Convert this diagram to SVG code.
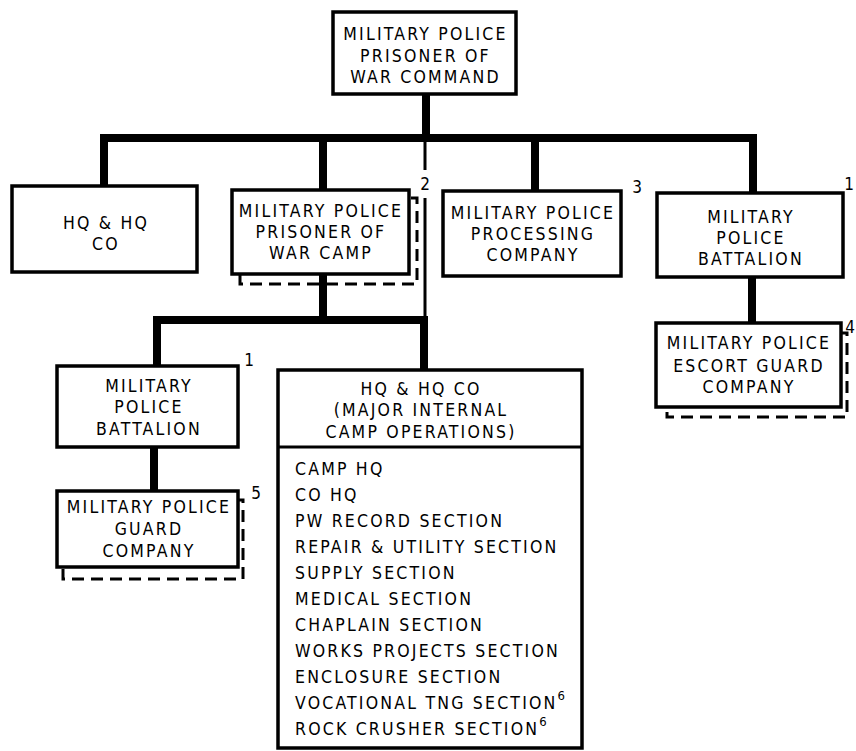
<svg xmlns="http://www.w3.org/2000/svg" width="856" height="751" viewBox="0 0 856 751">
<style>
text{font-family:"DejaVu Sans Condensed","Liberation Sans Narrow","DejaVu Sans",sans-serif;font-size:17.5px;letter-spacing:2.2px;fill:#000}
.c{text-anchor:middle}
.fn{font-size:17px;letter-spacing:0}
.box{fill:#fff;stroke:#000;stroke-width:3.5}
.sh{fill:none;stroke:#000;stroke-width:3;stroke-dasharray:12 7}
.thick{fill:none;stroke:#000;stroke-width:8;stroke-linejoin:miter}
.thin{fill:none;stroke:#000;stroke-width:3}
</style>
<rect width="856" height="751" fill="#fff"/>
<g id="connectors">
<path class="thick" d="M426,94 V138"/>
<path class="thick" d="M104,188 V138 H753 V194"/>
<path class="thick" d="M323,138 V191"/>
<path class="thick" d="M535,138 V192"/>
<path class="thin" d="M425,138 V170 M425,198 V370"/>
<path class="thick" d="M323,274 V320"/>
<path class="thick" d="M157,368 V320 H424 V371"/>
<path class="thick" d="M752,277 V324"/>
<path class="thick" d="M154,447 V492"/>
</g>
<g id="n-command">
<rect class="box" x="333" y="12" width="183" height="82"/>
<text class="c" x="425.5" y="40">MILITARY POLICE</text>
<text class="c" x="425.5" y="62">PRISONER OF</text>
<text class="c" x="425.5" y="83">WAR COMMAND</text>
</g>
<g id="n-hqco">
<rect class="box" x="12" y="186" width="185" height="86"/>
<text class="c" x="106" y="229">HQ &amp; HQ</text>
<text class="c" x="106" y="250">CO</text>
</g>
<g id="n-camp">
<rect class="sh" x="240" y="198" width="177" height="86"/>
<rect class="box" x="232" y="190" width="177" height="84"/>
<text class="c" x="321" y="217">MILITARY POLICE</text>
<text class="c" x="321" y="238">PRISONER OF</text>
<text class="c" x="321" y="259">WAR CAMP</text>
<text class="c fn" x="425" y="190">2</text>
</g>
<g id="n-processing">
<rect class="box" x="443" y="191" width="178" height="85"/>
<text class="c" x="533" y="219">MILITARY POLICE</text>
<text class="c" x="533" y="240">PROCESSING</text>
<text class="c" x="533" y="261">COMPANY</text>
<text class="c fn" x="637" y="193">3</text>
</g>
<g id="n-battalion-right">
<rect class="box" x="657" y="193" width="186" height="84"/>
<text class="c" x="751" y="223">MILITARY</text>
<text class="c" x="751" y="244">POLICE</text>
<text class="c" x="751" y="265">BATTALION</text>
<text class="c fn" x="849" y="190">1</text>
</g>
<g id="n-escort">
<rect class="sh" x="667" y="333" width="180" height="84"/>
<rect class="box" x="656" y="323" width="185" height="84"/>
<text class="c" x="749" y="349">MILITARY POLICE</text>
<text class="c" x="749" y="372">ESCORT GUARD</text>
<text class="c" x="749" y="393">COMPANY</text>
<text class="c fn" x="850" y="333">4</text>
</g>
<g id="n-battalion-left">
<rect class="box" x="57" y="366" width="181" height="81"/>
<text class="c" x="149" y="392">MILITARY</text>
<text class="c" x="149" y="413">POLICE</text>
<text class="c" x="149" y="435">BATTALION</text>
<text class="c fn" x="249" y="366">1</text>
</g>
<g id="n-guard">
<rect class="sh" x="63" y="500" width="180" height="79"/>
<rect class="box" x="57" y="491" width="181" height="76"/>
<text class="c" x="149" y="513">MILITARY POLICE</text>
<text class="c" x="149" y="535">GUARD</text>
<text class="c" x="149" y="557">COMPANY</text>
<text class="c fn" x="256" y="499">5</text>
</g>
<g id="n-hq-ops">
<rect class="box" x="278" y="370" width="304" height="378"/>
<line x1="278" y1="447" x2="582" y2="447" stroke="#000" stroke-width="3"/>
<text class="c" x="421" y="395">HQ &amp; HQ CO</text>
<text class="c" x="421" y="416">(MAJOR INTERNAL</text>
<text class="c" x="421" y="438">CAMP OPERATIONS)</text>
<text x="295" y="475">CAMP HQ</text>
<text x="295" y="501">CO HQ</text>
<text x="295" y="527">PW RECORD SECTION</text>
<text x="295" y="553">REPAIR &amp; UTILITY SECTION</text>
<text x="295" y="579">SUPPLY SECTION</text>
<text x="295" y="605">MEDICAL SECTION</text>
<text x="295" y="631">CHAPLAIN SECTION</text>
<text x="295" y="657">WORKS PROJECTS SECTION</text>
<text x="295" y="683">ENCLOSURE SECTION</text>
<text x="295" y="709">VOCATIONAL TNG SECTION<tspan dy="-9" font-size="13">6</tspan></text>
<text x="295" y="735">ROCK CRUSHER SECTION<tspan dy="-9" font-size="13">6</tspan></text>
</g>
</svg>
